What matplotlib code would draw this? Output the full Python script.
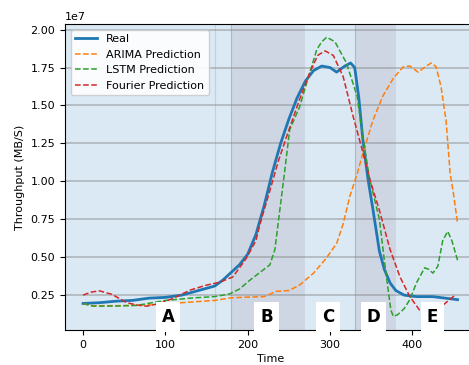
import matplotlib
matplotlib.use("Agg")
import matplotlib.pyplot as plt
import numpy as np

# values (y in units of 1e7 MB/S)
real_t = [0, 20, 40, 60, 80, 100, 120, 140, 160, 170, 180, 190, 200, 210, 220,
          230, 240, 250, 260, 270, 280, 290, 300, 308, 318, 325, 330, 335, 340,
          346, 352, 360, 366, 373, 380, 390, 405, 425, 440, 455]
real_y = [0.195, 0.20, 0.21, 0.215, 0.23, 0.235, 0.25, 0.28, 0.31, 0.35, 0.40,
          0.45, 0.52, 0.65, 0.84, 1.06, 1.25, 1.41, 1.55, 1.66, 1.73, 1.76,
          1.75, 1.72, 1.76, 1.78, 1.75, 1.55, 1.27, 1.02, 0.82, 0.54, 0.42,
          0.33, 0.28, 0.25, 0.24, 0.24, 0.23, 0.22]

arima_t = [0, 10, 40, 80, 120, 160, 180, 200, 220, 235, 250, 263, 280, 295,
           308, 316, 324, 333, 340, 352, 364, 377, 389, 397, 407, 417, 423,
           429, 435, 441, 446, 450, 455]
arima_y = [0.195, 0.18, 0.18, 0.185, 0.20, 0.215, 0.232, 0.237, 0.24, 0.275,
           0.28, 0.316, 0.395, 0.49, 0.59, 0.72, 0.90, 1.05, 1.185, 1.40, 1.56,
           1.68, 1.755, 1.76, 1.72, 1.76, 1.78, 1.755, 1.62, 1.40, 1.05, 0.92,
           0.72]

lstm_t = [0, 12, 40, 65, 100, 135, 160, 178, 190, 203, 215, 227, 233, 239, 245,
          251, 263, 275, 284, 290, 296, 306, 320, 333, 340, 348, 360, 366, 370,
          374, 377, 382, 390, 397, 405, 415, 420, 425, 431, 437, 443, 448, 455]
lstm_y = [0.195, 0.177, 0.178, 0.182, 0.215, 0.232, 0.24, 0.258, 0.29, 0.35,
          0.40, 0.45, 0.55, 0.81, 1.07, 1.34, 1.49, 1.71, 1.87, 1.92, 1.95,
          1.92, 1.78, 1.56, 1.29, 1.02, 0.75, 0.48, 0.31, 0.15, 0.11, 0.12,
          0.16, 0.22, 0.33, 0.43, 0.42, 0.395, 0.44, 0.61, 0.67, 0.61, 0.48]

fourier_t = [0, 10, 20, 35, 53, 65, 77, 93, 109, 130, 150, 166, 182, 198, 210,
             215, 227, 237, 247, 263, 275, 285, 294, 304, 316, 328, 340, 348,
             360, 373, 385, 397, 409, 420, 430, 443, 452]
fourier_y = [0.25, 0.27, 0.278, 0.255, 0.20, 0.185, 0.177, 0.195, 0.228, 0.283,
             0.316, 0.335, 0.37, 0.49, 0.61, 0.72, 0.94, 1.13, 1.29, 1.54, 1.71,
             1.83, 1.86, 1.83, 1.69, 1.43, 1.19, 1.02, 0.81, 0.55, 0.37, 0.24,
             0.15, 0.13, 0.15, 0.21, 0.25]

# phases
phase_names = ["A", "B", "C", "D", "E"]
phase_label_x = [103, 223, 298, 353, 424]
dark_spans = [(180, 270), (330, 380)]
phase_edges = [160, 180, 330]

fig = plt.figure(figsize=(4.69, 3.65), dpi=100)
ax = fig.add_axes([0.1386, 0.0959, 0.8774, 0.8383])
ax.set_facecolor("#dbe9f4")

for x0, x1 in dark_spans:
    ax.axvspan(x0, x1, color="#cfd6e3", lw=0, zorder=0)
ax.axvline(phase_edges[0], color="#b8d4ec", lw=0.8, zorder=0.5)
for xe in phase_edges[1:]:
    ax.axvline(xe, color="#a9b9d2", lw=0.8, zorder=0.5)

ax.yaxis.grid(True, color="gray", alpha=0.45, lw=1.3, zorder=0.6)
ax.set_axisbelow(True)

s = 1e7
ax.plot(real_t, np.array(real_y) * s, color="C0", lw=2, label="Real", zorder=3)
ax.plot(arima_t, np.array(arima_y) * s, "--", color="C1", lw=1.1,
        label="ARIMA Prediction", zorder=3)
ax.plot(lstm_t, np.array(lstm_y) * s, "--", color="C2", lw=1.1,
        label="LSTM Prediction", zorder=3)
ax.plot(fourier_t, np.array(fourier_y) * s, "--", color="C3", lw=1.1,
        label="Fourier Prediction", zorder=3)

for name, xl in zip(phase_names, phase_label_x):
    ax.text(xl, 0.105 * s, name, fontsize=12, fontweight="bold",
            ha="center", va="center", zorder=4,
            bbox=dict(boxstyle="square,pad=0.35", facecolor="white",
                      edgecolor="none"))

ax.set_xlim(-22, 478)
ax.set_ylim(0.02 * s, 2.037 * s)
ax.set_xticks([0, 100, 200, 300, 400])
ax.set_yticks(np.arange(0.25, 2.01, 0.25) * s)
ax.tick_params(labelsize=8)
ax.yaxis.get_offset_text().set_fontsize(8)
ax.set_xlabel("Time", fontsize=8, labelpad=3)
ax.set_ylabel("Throughput (MB/S)", fontsize=8)

ax.legend(loc="upper left", fontsize=8, framealpha=0.9)

fig.savefig("out.png", dpi=100)
